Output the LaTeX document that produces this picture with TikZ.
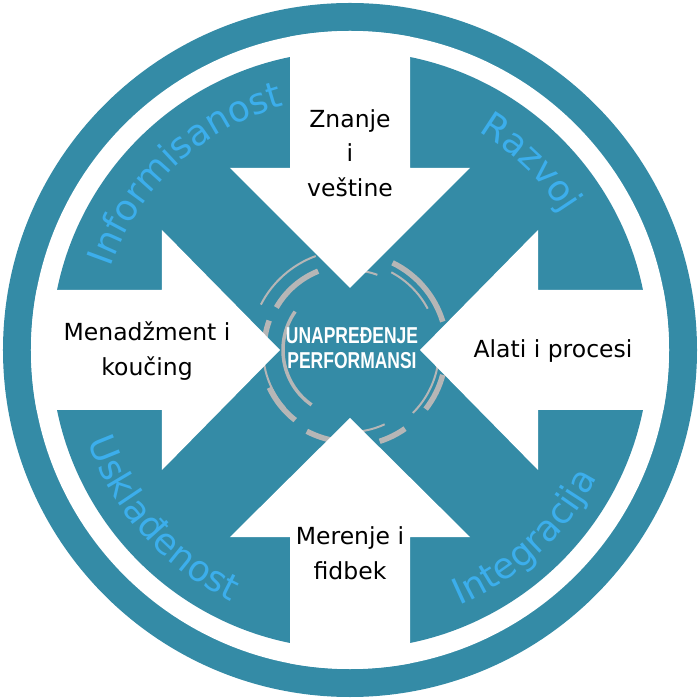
\documentclass[tikz,border=0pt]{standalone}
\usepackage{fontspec}
\usepackage{graphicx}
\setmainfont{DejaVu Sans}
\newfontfamily\centerfont{Liberation Sans}
\usetikzlibrary{decorations.text}
\definecolor{teal1}{RGB}{52,139,166}
\definecolor{lblue}{RGB}{60,174,236}
\definecolor{arcgray}{RGB}{182,182,182}
\newcommand\labelfont{\fontsize{36}{36}\selectfont}
\begin{document}
\begin{tikzpicture}[x=1pt,y=1pt,
  arrowshape/.style={fill=white, draw=none},
  thickarc/.style={draw=arcgray, line width=5.5pt},
  medarc/.style={draw=arcgray, line width=3.5pt},
  thinarc/.style={draw=arcgray, line width=2pt},
  bodytext/.style={font=\fontsize{23.5}{34.5}\selectfont, text=black, align=center, inner sep=0pt},
  centertext/.style={font=\centerfont\bfseries\fontsize{23}{25}\selectfont, text=white, align=center, inner sep=0pt},
  curvelabel/.style={decorate, decoration={text along path, text align=center, text color=lblue, text={|\labelfont|#1}}}
]
\useasboundingbox (-350,-350) rectangle (350,350);
% rings and disk
\fill[teal1] (0,0) circle (347);
\fill[white] (0,0) circle (319);
\fill[teal1] (0,0) circle (299);
% gray arcs round the centre
\draw[thickarc] (17:97) arc[start angle=17, end angle=64, radius=97];
\draw[thickarc] (-38:96) arc[start angle=-38, end angle=-15, radius=96];
\draw[thickarc] (-72:96) arc[start angle=-72, end angle=-55, radius=96];
\draw[thickarc] (112:85) arc[start angle=112, end angle=150, radius=85];
\draw[thickarc] (160:86) arc[start angle=160, end angle=180, radius=86];
\draw[thickarc] (205:89) arc[start angle=205, end angle=232, radius=89];
\draw[thickarc] (242:92) arc[start angle=242, end angle=262, radius=92];
\draw[medarc] (145:67) arc[start angle=145, end angle=235, radius=67];
\draw[thinarc] (28:88) arc[start angle=28, end angle=62, radius=88];
\draw[thinarc] (110:100) arc[start angle=110, end angle=153, radius=100];
\draw[thinarc] (185:87) arc[start angle=185, end angle=222, radius=87];
\draw[thinarc] (-45:89) arc[start angle=-45, end angle=-10, radius=89];
\draw[thinarc] (265:82) arc[start angle=265, end angle=295, radius=82];
\draw[thinarc] (70:80) arc[start angle=70, end angle=100, radius=80];
% white arrows pointing inward
\begin{scope}
\clip (0,0) circle (319);
\fill[arrowshape] (-60,340) -- (-60,182) -- (-120,182) -- (0,62) -- (120,182) -- (60,182) -- (60,340) -- cycle;
\fill[arrowshape] (-60,-340) -- (-60,-187) -- (-120,-187) -- (0,-68) -- (120,-187) -- (60,-187) -- (60,-340) -- cycle;
\fill[arrowshape] (-340,60) -- (-188,60) -- (-188,120) -- (-70,0) -- (-188,-120) -- (-188,-60) -- (-340,-60) -- cycle;
\fill[arrowshape] (340,60) -- (188,60) -- (188,120) -- (70,0) -- (188,-120) -- (188,-60) -- (340,-60) -- cycle;
\end{scope}
% texts in arrows
\node[bodytext] (znanje) at (0,197) {Znanje\\i\\veštine};
\node[bodytext] (menadz) at (-203,-1) {Menadžment i\\koučing};
\node[bodytext] (alati) at (203,-1) {Alati i procesi};
\node[bodytext] (merenje) at (0,-203) {Merenje i\\fidbek};
% centre text
\node[centertext] (centre) at (2,2) {\scalebox{0.76}[1]{UNAPREĐENJE}\\\scalebox{0.76}[1]{PERFORMANSI}};
% curved labels
\path[curvelabel=Informisanost] (176:253) arc[start angle=176, end angle=90, radius=253];
\path[curvelabel=Razvoj] (80:253) arc[start angle=80, end angle=12, radius=253];
\path[curvelabel=Usklađenost] (180:278) arc[start angle=180, end angle=264, radius=278];
\path[curvelabel=Integracija] (-90:278) arc[start angle=-90, end angle=-4, radius=278];
\end{tikzpicture}
\end{document}
